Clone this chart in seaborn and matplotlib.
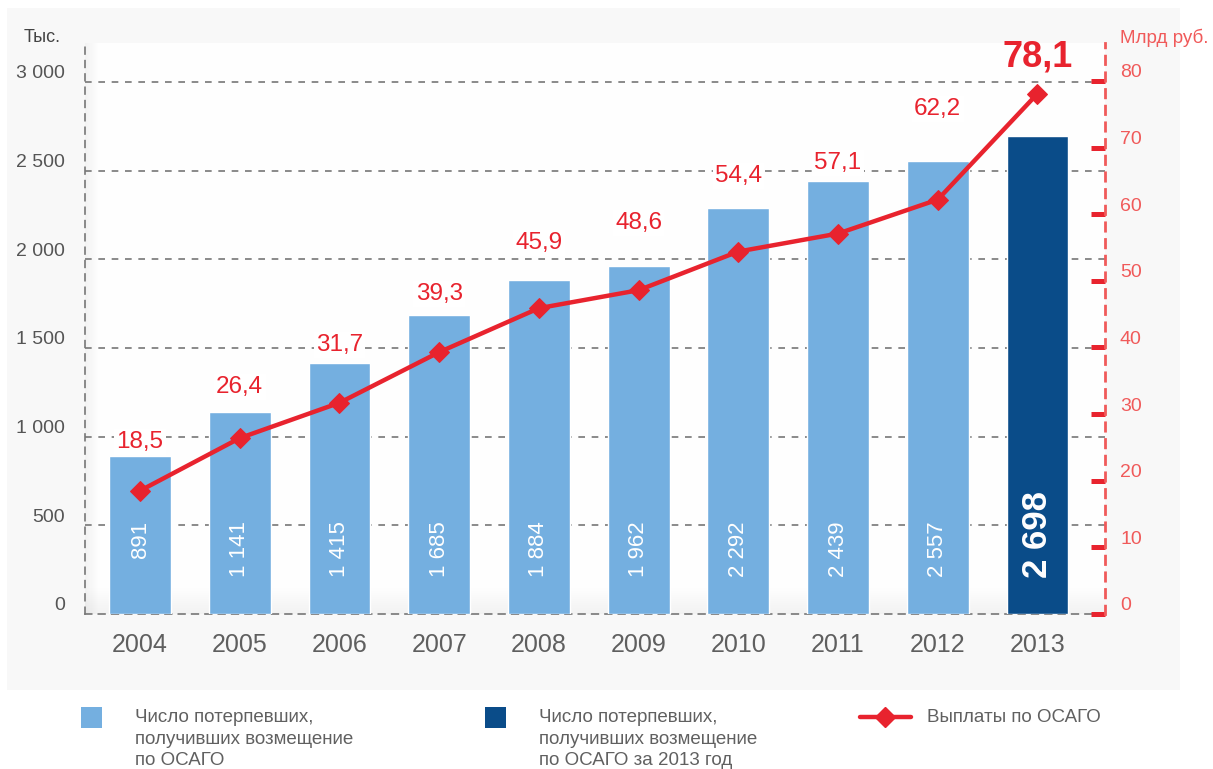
import matplotlib
matplotlib.use('Agg')
import matplotlib.pyplot as plt
from matplotlib.patches import Rectangle
from matplotlib.lines import Line2D
import numpy as np
import pandas as pd
import seaborn as sns

# Data
years = ['2004', '2005', '2006', '2007', '2008', '2009', '2010', '2011', '2012', '2013']
victims = [891, 1141, 1415, 1685, 1884, 1962, 2292, 2439, 2557, 2698]
victim_labels = ['891', '1 141', '1 415', '1 685', '1 884', '1 962', '2 292', '2 439', '2 557', '2 698']
payouts = [18.5, 26.4, 31.7, 39.3, 45.9, 48.6, 54.4, 57.1, 62.2, 78.1]
payout_labels = ['18,5', '26,4', '31,7', '39,3', '45,9', '48,6', '54,4', '57,1', '62,2', '78,1']
left_ticks = [0, 500, 1000, 1500, 2000, 2500, 3000]
left_tick_labels = ['0', '500', '1 000', '1 500', '2 000', '2 500', '3 000']
right_ticks = [0, 10, 20, 30, 40, 50, 60, 70, 80]

# how far each payout label sits above its point (right axis units)
label_gap = [7.3, 7.7, 8.7, 8.7, 9.8, 10.1, 11.3, 10.6, 13.6, 5.5]

LIGHT = '#74afe0'
DARK = '#0a4c89'
RED = '#e8232e'
RED_SOFT = '#f05a5a'
GRAY = '#555555'

sns.set_theme(style='white')
plt.rcParams['font.family'] = ['Liberation Sans', 'DejaVu Sans']

W, H = 1213, 769
fig = plt.figure(figsize=(W / 100, H / 100), dpi=100)
fig.patch.set_facecolor('white')

# light panel behind everything
fig.patches.append(Rectangle((7 / W, 1 - 690 / H), 1173 / W, 682 / H,
                             transform=fig.transFigure, facecolor='#f8f8f8',
                             edgecolor='none', zorder=-10))

ax = fig.add_axes([85 / W, 155 / H, 1020 / W, 571 / H])
ax.set_facecolor('#fefefe')

# Bars
df = pd.DataFrame({'year': years, 'victims': victims})
palette = [LIGHT] * 9 + [DARK]
sns.barplot(data=df, x='year', y='victims', hue='year', palette=palette,
            width=0.62, saturation=1, legend=False, ax=ax, zorder=3)

ax.set_xlim(-0.552, 9.677)
ax.set_ylim(0, 3220)

# soft shadow near bottom and left edge
for k in range(1, 13):
    ax.axhspan(0, k * 12, color='black', alpha=0.005, lw=0, zorder=1)
    ax.axvspan(-0.552, -0.552 + k * 0.011, color='black', alpha=0.004, lw=0, zorder=1)

# grid
for v in left_ticks[1:]:
    ax.axhline(v, color='#777777', lw=1.2, ls=(0, (4, 4)), zorder=2)

for sp in ['top', 'right']:
    ax.spines[sp].set_visible(False)
for sp in ['left', 'bottom']:
    ax.spines[sp].set_color('#777777')
    ax.spines[sp].set_linewidth(1.2)
    ax.spines[sp].set_linestyle((0, (4, 4)))

ax.set_xlabel('')
ax.set_ylabel('')
ax.set_yticks(left_ticks)
ax.tick_params(axis='y', length=0, labelleft=False)
ax.tick_params(axis='x', length=0, pad=14, labelsize=18, labelcolor='#5f5f5f')

for v, lab in zip(left_ticks, left_tick_labels):
    ax.annotate(lab, xy=(0, v), xycoords=('axes fraction', 'data'),
                xytext=(-14.4, 5.8), textcoords='offset points',
                ha='right', va='center', fontsize=14, color=GRAY)

# values inside bars
for i, lab in enumerate(victim_labels[:-1]):
    ax.text(i, 524, lab, rotation=90, ha='center', va='top',
            color='white', fontsize=16, zorder=4)
ax.text(9, 451, victim_labels[-1], rotation=90, ha='center', va='center',
        color='white', fontsize=25, fontweight='bold', zorder=4)

# Line on the right axis
ax2 = ax.twinx()
sns.lineplot(x=np.arange(len(years)), y=payouts, ax=ax2, color=RED, lw=3.2,
             marker='D', markersize=10, markeredgecolor=RED, zorder=5)
ax2.set_ylim(0, 85.7)
ax2.set_xlim(-0.552, 9.677)
ax2.set_ylabel('')

for sp in ['top', 'left', 'bottom']:
    ax2.spines[sp].set_visible(False)
ax2.spines['right'].set_color(RED_SOFT)
ax2.spines['right'].set_linewidth(2)
ax2.spines['right'].set_linestyle((0, (3, 3)))
ax2.set_yticks(right_ticks)
ax2.tick_params(axis='y', direction='in', length=10, width=3.6, color=RED,
                labelright=False)

for v in right_ticks:
    ax2.annotate(str(v), xy=(1, v), xycoords=('axes fraction', 'data'),
                 xytext=(10.8, 5.8), textcoords='offset points',
                 ha='left', va='center', fontsize=14, color=RED_SOFT)

for i, (p, lab) in enumerate(zip(payouts, payout_labels)):
    if i == len(payouts) - 1:
        ax2.text(i, p + label_gap[i], lab, ha='center', va='center', color=RED,
                 fontsize=26, fontweight='bold', zorder=6)
    else:
        ax2.text(i, p + label_gap[i], lab, ha='center', va='center', color=RED,
                 fontsize=17.5, zorder=6,
                 bbox=dict(facecolor='white', edgecolor='none', pad=1.5))

# unit captions
fig.text(24 / W, 1 - 38 / H, 'Тыс.', ha='left', va='center', fontsize=13, color='#444444')
fig.text(1120 / W, 1 - 38 / H, 'Млрд руб.', ha='left', va='center', fontsize=13.5, color=RED_SOFT)

# Legend
leg_font = dict(fontsize=13.5, color='#606060', va='top', ha='left', linespacing=1.36)
fig.patches.append(Rectangle((81 / W, 1 - 728 / H), 21 / W, 21 / H,
                             transform=fig.transFigure, facecolor=LIGHT, edgecolor='none'))
fig.text(135 / W, 1 - 709 / H, 'Число потерпевших,\nполучивших возмещение\nпо ОСАГО', **leg_font)
fig.patches.append(Rectangle((485 / W, 1 - 728 / H), 21 / W, 21 / H,
                             transform=fig.transFigure, facecolor=DARK, edgecolor='none'))
fig.text(539 / W, 1 - 709 / H, 'Число потерпевших,\nполучивших возмещение\nпо ОСАГО за 2013 год', **leg_font)
fig.add_artist(Line2D([860 / W, 911 / W], [1 - 717 / H] * 2, transform=fig.transFigure,
                      color=RED, lw=3.2))
fig.add_artist(Line2D([885 / W], [1 - 717 / H], transform=fig.transFigure,
                      color=RED, marker='D', markersize=10, markeredgecolor=RED))
fig.text(927 / W, 1 - 709 / H, 'Выплаты по ОСАГО', **leg_font)

fig.savefig('out.png', dpi=100)
